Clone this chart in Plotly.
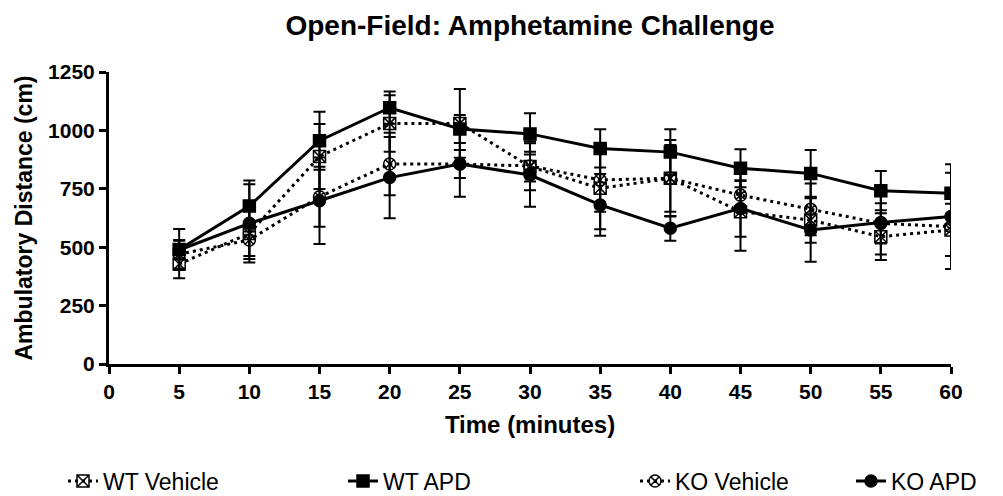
import plotly.graph_objects as go

time_min = [5, 10, 15, 20, 25, 30, 35, 40, 45, 50, 55, 60]

wt_vehicle = [428, 559, 888, 1030, 1030, 845, 752, 795, 652, 616, 545, 574]
wt_vehicle_err = [61, 110, 139, 121, 147, 64, 175, 164, 167, 97, 100, 112]

wt_apd = [490, 676, 956, 1097, 1006, 985, 923, 907, 838, 816, 742, 731]
wt_apd_err = [88, 109, 124, 69, 60, 88, 82, 98, 81, 100, 84, 88]

ko_vehicle = [470, 531, 716, 856, 856, 848, 788, 795, 723, 662, 602, 588]
ko_vehicle_err = [61, 69, 128, 134, 60, 104, 136, 143, 60, 111, 86, 126]

ko_apd = [488, 602, 699, 798, 856, 809, 681, 581, 666, 574, 606, 631]
ko_apd_err = [40, 168, 185, 174, 140, 136, 132, 53, 121, 136, 137, 224]

y_ticks = [0, 250, 500, 750, 1000, 1250]
x_ticks = list(range(0, 61, 5))

series = [
    ("WT Vehicle", wt_vehicle, wt_vehicle_err, "square-x-open", "3px,4px", "legend"),
    ("WT APD", wt_apd, wt_apd_err, "square", "solid", "legend2"),
    ("KO Vehicle", ko_vehicle, ko_vehicle_err, "circle-x-open", "3px,4px", "legend3"),
    ("KO APD", ko_apd, ko_apd_err, "circle", "solid", "legend4"),
]

# page body adds an 8px offset; the figure is sized to fit the window
W, H = 995, 488

fig = go.Figure()
for name, vals, errs, sym, dash, leg in series:
    fig.add_trace(go.Scatter(
        x=time_min, y=vals, name=name, mode="lines+markers", legend=leg,
        line=dict(color="black", width=3, dash=dash),
        marker=dict(symbol=sym, size=12, color="black",
                    line=dict(color="black", width=1.5)),
        error_y=dict(type="data", array=errs, visible=True,
                     color="black", thickness=2, width=6),
    ))

leg_left_px = [55, 335, 627, 843]
leg_y = 1 - 473 / H


def leg(px):
    return dict(xref="container", yref="container",
                x=px / W, xanchor="left", y=leg_y, yanchor="middle",
                orientation="h", font=dict(size=23, color="black"),
                bgcolor="rgba(0,0,0,0)", borderwidth=0)


fig.update_layout(
    width=W, height=H,
    margin=dict(l=101, r=52, t=64, b=132, autoexpand=False),
    paper_bgcolor="white", plot_bgcolor="white",
    font=dict(family="Liberation Sans, Arial, sans-serif", color="black"),
    title=dict(text="<b>Open-Field: Amphetamine Challenge</b>",
               x=522 / W, xanchor="center", y=1 - 17 / H, yanchor="middle",
               font=dict(size=28, color="black")),
    showlegend=True,
    legend=leg(leg_left_px[0]),
    legend2=leg(leg_left_px[1]),
    legend3=leg(leg_left_px[2]),
    legend4=leg(leg_left_px[3]),
    xaxis=dict(
        range=[0, 60], tickmode="array",
        tickvals=x_ticks,
        ticktext=[f"<b>{v}</b>" for v in x_ticks],
        showgrid=False, zeroline=False,
        showline=True, linecolor="black", linewidth=3,
        ticks="outside", ticklen=7, tickwidth=3, tickcolor="black",
        tickfont=dict(size=21, color="black"),
        title=dict(text="<b>Time (minutes)</b>", font=dict(size=24, color="black"),
                   standoff=14),
    ),
    yaxis=dict(
        range=[0, 1250], tickmode="array",
        tickvals=y_ticks,
        ticktext=[f"<b>{v}</b>" for v in y_ticks],
        showgrid=False, zeroline=False,
        showline=True, linecolor="black", linewidth=3,
        ticks="outside", ticklen=7, tickwidth=3, tickcolor="black",
        tickfont=dict(size=21, color="black"),
        title=dict(text="<b>Ambulatory Distance (cm)</b>", font=dict(size=23, color="black"),
                   standoff=10),
    ),
)

fig.write_html("out.html")
